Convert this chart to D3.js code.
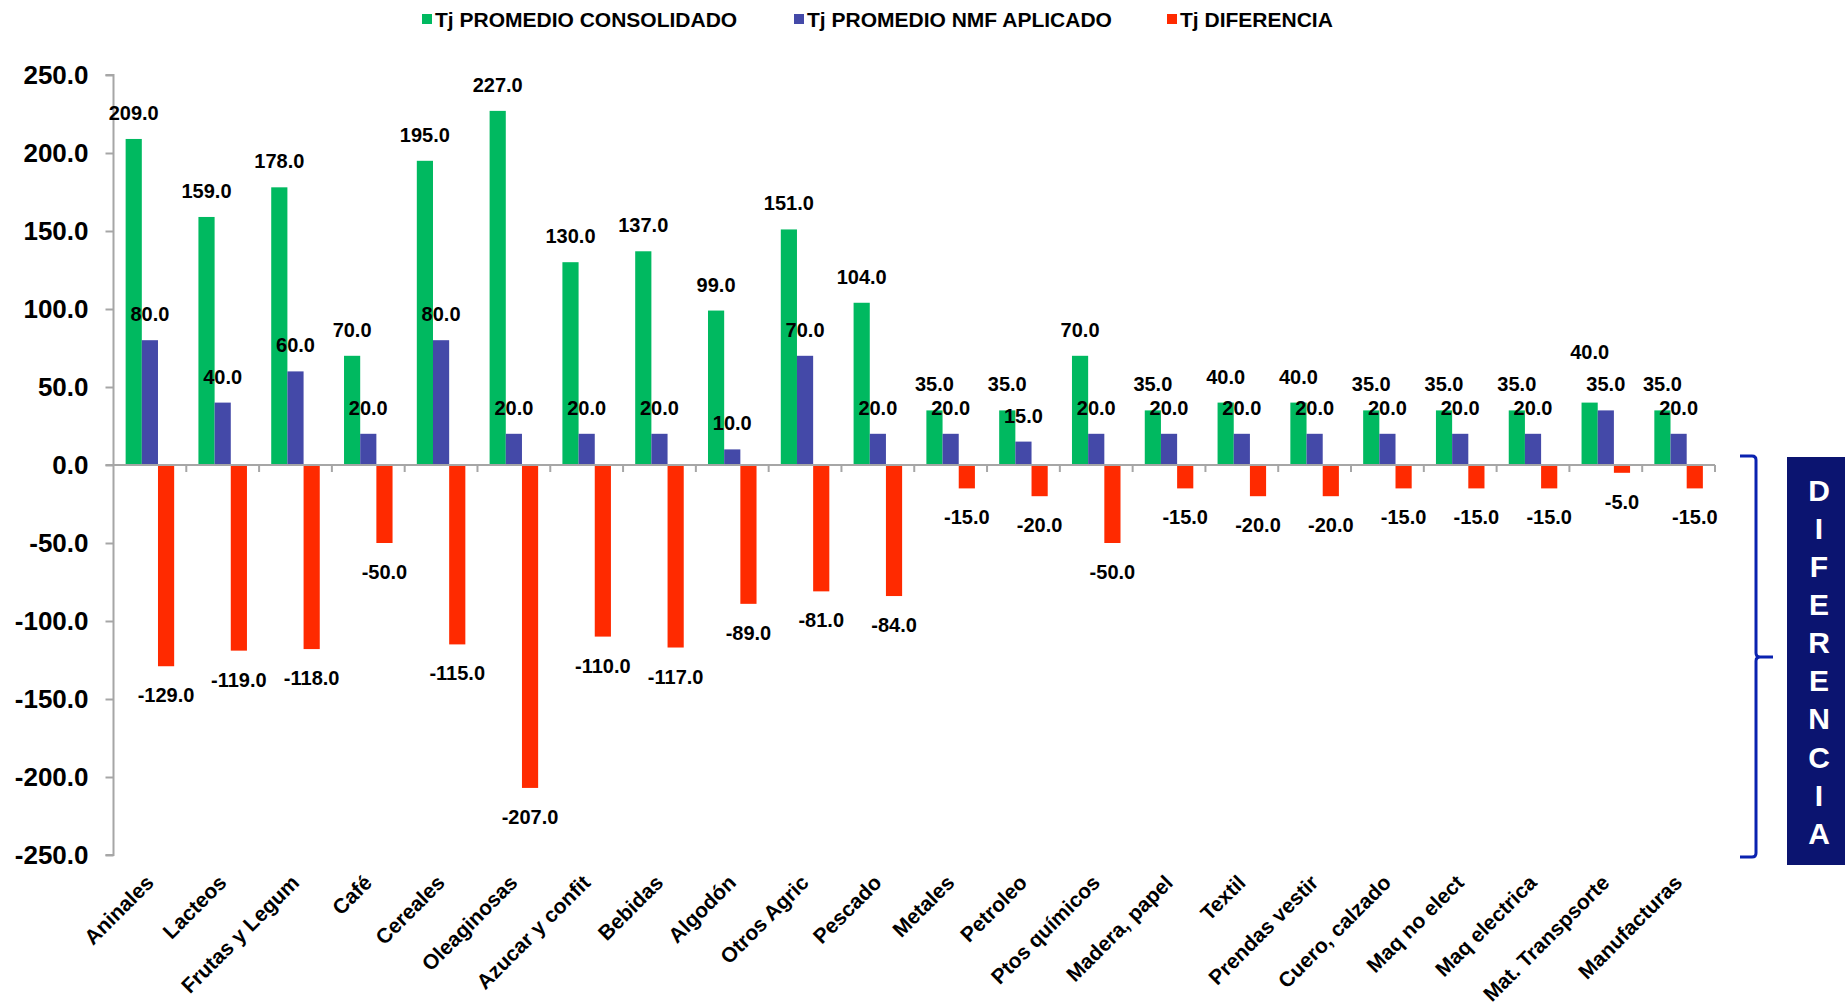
<!DOCTYPE html>
<html><head><meta charset="utf-8">
<script src="https://cdn.jsdelivr.net/npm/d3@7"></script>
<style>
body{margin:0;background:#fff;}
svg{display:block;font-family:"Liberation Sans",Arial,sans-serif;}
</style></head>
<body><svg id="chart" width="1845" height="1002"></svg>
<script>
const categories = ["Aninales","Lacteos","Frutas y Legum","Café","Cereales","Oleaginosas","Azucar y confit","Bebidas","Algodón","Otros Agric","Pescado","Metales","Petroleo","Ptos químicos","Madera, papel","Textil","Prendas vestir","Cuero, calzado","Maq no elect","Maq electrica","Mat. Transpsorte","Manufacturas"];
const consolidado = [209,159,178,70,195,227,130,137,99,151,104,35,35,70,35,40,40,35,35,35,40,35];
const nmfAplicado = [80,40,60,20,80,20,20,20,10,70,20,20,15,20,20,20,20,20,20,20,35,20];
const diferencia = [-129,-119,-118,-50,-115,-207,-110,-117,-89,-81,-84,-15,-20,-50,-15,-20,-20,-15,-15,-15,-5,-15];
const seriesNames = ["Tj PROMEDIO CONSOLIDADO","Tj PROMEDIO NMF APLICADO","Tj DIFERENCIA"];
const yTicks = [250,200,150,100,50,0,-50,-100,-150,-200,-250];
const sideLabel = "DIFERENCIA";

(function(){
const colors = ["#00B960","#4449A8","#FF2A00"];
const svg = d3.select("#chart");
const x0 = 113.5, x1 = 1715;
const y = d3.scaleLinear().domain([-250,250]).range([855,75]);
const x = d3.scaleBand().domain(categories).range([x0,x1]).paddingInner(0).paddingOuter(0);
const inner = d3.scaleBand().domain([0,1,2]).range([0,x.bandwidth()]).paddingInner(0).paddingOuter(0.75);
const series = [consolidado, nmfAplicado, diferencia];
const fmt = d3.formatLocale({decimal:".",thousands:",",grouping:[3],currency:["",""],minus:"-"}).format(".1f");

// Y axis
const yAxis = d3.axisLeft(y).tickValues(yTicks).tickSize(8).tickFormat(fmt);
const gy = svg.append("g").attr("transform",`translate(${x0},0)`).call(yAxis);
gy.select(".domain").attr("stroke","#A6A6A6").attr("stroke-width",2).attr("d",`M-8,${y(250)}H0V${y(-250)}H-8`);
gy.selectAll(".tick line").attr("stroke","#A6A6A6").attr("stroke-width",2);
gy.selectAll(".tick text").attr("x",-25).attr("font-size",26).attr("font-weight","bold").attr("fill","#000")
  .attr("font-family","'Liberation Sans',Arial,sans-serif");

// bars
series.forEach((vals,si)=>{
  svg.append("g").selectAll("rect").data(vals).join("rect")
    .attr("x",(d,i)=>x(categories[i])+inner(si))
    .attr("width",inner.bandwidth())
    .attr("y",d=>y(Math.max(0,d)))
    .attr("height",d=>Math.abs(y(d)-y(0)))
    .attr("fill",colors[si]);
});

// X axis line + ticks
const gx = svg.append("g");
gx.append("line").attr("x1",x0-8).attr("x2",x1).attr("y1",y(0)).attr("y2",y(0)).attr("stroke","#A6A6A6").attr("stroke-width",2);
const bounds = categories.map(c=>x(c)).concat([x1]).slice(1);
gx.selectAll("line.t").data(bounds).join("line").attr("class","t")
  .attr("x1",d=>d).attr("x2",d=>d).attr("y1",y(0)).attr("y2",y(0)+7)
  .attr("stroke","#A6A6A6").attr("stroke-width",2);

// X labels
svg.append("g").selectAll("text").data(categories).join("text")
  .attr("transform",d=>`translate(${x(d)+x.bandwidth()/2+5},${884}) rotate(-45)`)
  .attr("text-anchor","end").attr("font-size",21).attr("font-weight","bold").text(d=>d);

// value labels
const labelG = svg.append("g").attr("font-size",20).attr("font-weight","bold").attr("text-anchor","middle");
categories.forEach((c,i)=>{
  const cxs = [0,1,2].map(si=>x(c)+inner(si)+inner.bandwidth()/2);
  const yBlue = y(nmfAplicado[i]) - 19;
  let yGreen = y(consolidado[i]) - 19;
  if (yGreen > yBlue - 20) yGreen = yBlue - 32;
  labelG.append("text").attr("x",cxs[0]).attr("y",yGreen).text(fmt(consolidado[i]));
  labelG.append("text").attr("x",cxs[1]).attr("y",yBlue).text(fmt(nmfAplicado[i]));
  labelG.append("text").attr("x",cxs[2]).attr("y",y(diferencia[i])+36).text(fmt(diferencia[i]));
});

// Legend
const legX = [422,794,1167];
const lg = svg.append("g");
seriesNames.forEach((n,i)=>{
  lg.append("rect").attr("x",legX[i]).attr("y",14).attr("width",10).attr("height",10).attr("fill",colors[i]);
  lg.append("text").attr("x",legX[i]+13).attr("y",27).attr("font-size",21).attr("font-weight","bold").text(n);
});

// bracket
const bx = 1756, bTop = 456, bBot = 857, bMid = 657;
svg.append("path").attr("fill","none").attr("stroke","#0A22B0").attr("stroke-width",3)
  .attr("d",`M1740,${bTop} H${bx-4} Q${bx},${bTop} ${bx},${bTop+4} V${bMid-4} Q${bx},${bMid} ${bx+4},${bMid} H1773 M${bx+4},${bMid} Q${bx},${bMid} ${bx},${bMid+4} V${bBot-4} Q${bx},${bBot} ${bx-4},${bBot} H1740`);

// side box
svg.append("rect").attr("x",1787).attr("y",457).attr("width",58).attr("height",408).attr("fill","#0B1470");
const letters = sideLabel.split("");
const ly = d3.scalePoint().domain(d3.range(letters.length)).range([490,833]);
svg.append("g").selectAll("text").data(letters).join("text")
  .attr("x",1819).attr("y",(d,i)=>ly(i)).attr("dy","0.36em").attr("text-anchor","middle")
  .attr("fill","#fff").attr("font-size",30).attr("font-weight","bold").text(d=>d);
})();
</script></body></html>
